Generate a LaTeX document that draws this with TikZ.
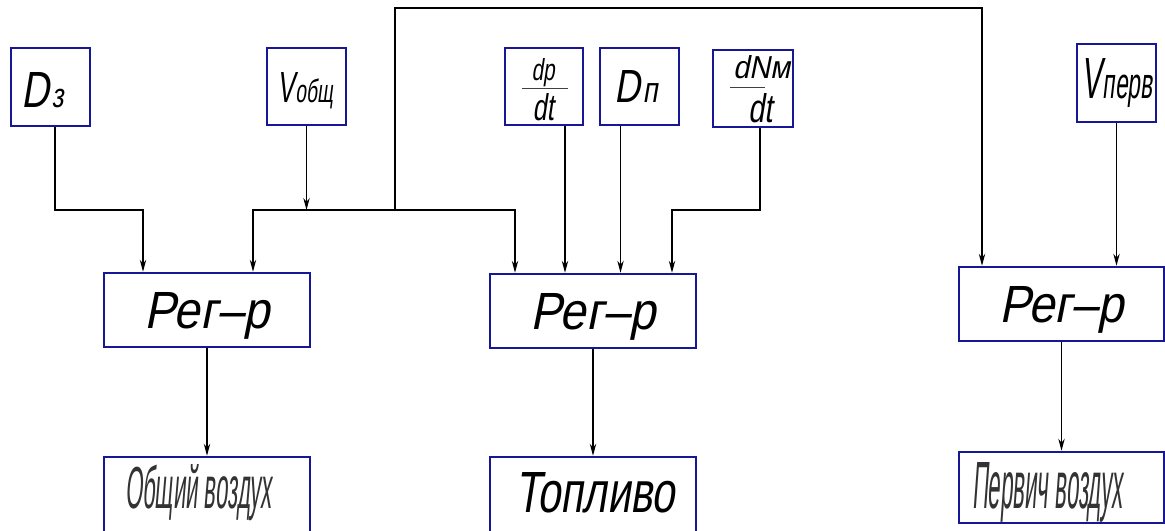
\documentclass[tikz,border=0pt]{standalone}
\usepackage{fontspec}
\newfontfamily\gost[FakeSlant=0.22]{Liberation Sans}
\usetikzlibrary{arrows.meta,calc}
\definecolor{boxblue}{RGB}{22,22,150}
\begin{document}
\begin{tikzpicture}[x=0.5pt,y=-0.5pt,
  blk/.style={draw=boxblue,line width=1.25pt,rectangle,inner sep=0pt},
  lbl/.style={inner sep=0pt,anchor=base,font=\gost},
  arr/.style={draw=black,line width=0.6pt,-{Stealth[length=6pt,width=3.2pt]}},
  fracbar/.style={draw=black!75,line width=0.5pt}]
\useasboundingbox (0,0) rectangle (1165,530);
\fill[white] (0,0) rectangle (1165,530);

% input boxes
\node[blk,minimum width=39.5pt,minimum height=39pt]   (d3)  at (50.5,87)   {};
\node[blk,minimum width=39.5pt,minimum height=38.5pt] (vo)  at (306.5,86.5) {};
\node[blk,minimum width=39pt,minimum height=38.5pt]   (dp)  at (544,86.5)  {};
\node[blk,minimum width=39.5pt,minimum height=38.5pt] (dn)  at (639.5,86.5) {};
\node[blk,minimum width=40pt,minimum height=38.5pt]   (dnm) at (753,88.5)  {};
\node[blk,minimum width=39.5pt,minimum height=39pt]   (vp)  at (1116.5,83) {};

% regulators
\node[blk,minimum width=103pt,minimum height=37pt,text depth=0pt,font=\gost] (r1) at (207,310) {\resizebox{62.5pt}{18pt}{Рег–р}};
\node[blk,minimum width=103pt,minimum height=37pt,text depth=0pt,font=\gost] (r2) at (593,311) {\resizebox{62.5pt}{18pt}{Рег–р}};
\node[blk,minimum width=102.5pt,minimum height=37pt,text depth=0pt,font=\gost] (r3) at (1061.5,304) {\resizebox{62.5pt}{18pt}{Рег–р}};

% outputs
\node[blk,minimum width=103pt,minimum height=41.5pt]   (o1) at (207,498.5) {};
\node[blk,minimum width=103pt,minimum height=41.5pt]   (o2) at (593,498.5) {};
\node[blk,minimum width=102.5pt,minimum height=35.5pt] (o3) at (1061.5,487.5) {};

% labels
\node[lbl] (t3)  at (42.5,107) {\resizebox{21pt}{17.5pt}{D\kern0.6pt{\fontsize{6.7}{8}\selectfont з}}};
\node[lbl] (tvo) at (305,102)  {\resizebox{28pt}{15pt}{V\kern0.4pt{\fontsize{7.4}{9}\selectfont общ}}};
\node[lbl] (tdn) at (636,102)  {\resizebox{21.5pt}{16pt}{D\kern0.6pt{\fontsize{7.7}{9}\selectfont п}}};
\node[lbl] (tvp) at (1117,98)  {\resizebox{35.5pt}{20pt}{V\kern0.4pt{\fontsize{7.5}{9}\selectfont перв}}};
\node[lbl] (tdp1) at (543,80)  {\resizebox{11.5pt}{11pt}{dp}};
\node[lbl] (tdp2) at (543,120) {\resizebox{10.5pt}{13.5pt}{dt}};
\node[lbl] (tdm1) at (761.5,78) {\resizebox{28.5pt}{11.5pt}{dNм}};
\node[lbl] (tdm2) at (760,122)  {\resizebox{12pt}{14.5pt}{dt}};
\draw[fracbar] (522,88) -- (568,88);
\draw[fracbar] (730,87) -- (765,87);
\node[lbl,text=black!80] (to1) at (198.5,508) {\resizebox{73.5pt}{22pt}{Общий воздух}};
\node[lbl] (to2) at (595,512) {\resizebox{80pt}{20pt}{Топливо}};
\node[lbl,text=black!80] (to3) at (1047.5,508) {\resizebox{75.5pt}{23pt}{Первич воздух}};

% connection points
\coordinate (bus) at (395,210);
\coordinate (fb)  at (395,8);
\coordinate (d3s)  at ([xshift=2.25pt]d3.south);
\coordinate (dps)  at ([xshift=10.5pt]dp.south);
\coordinate (dns)  at ([xshift=-9.5pt]dn.south);
\coordinate (dnms) at ([xshift=3.5pt]dnm.south);
\coordinate (r1a) at ([xshift=-32pt]r1.north);
\coordinate (r1b) at ([xshift=23pt]r1.north);
\coordinate (r2a) at ([xshift=-39pt]r2.north);
\coordinate (r2d) at ([xshift=39.5pt]r2.north);
\coordinate (r3a) at ([xshift=-39.75pt]r3.north);

% connectors
\draw[arr] (d3s) |- (r1a |- bus) -- (r1a);
\draw[arr] (vo.south) -- (vo.south |- bus);
\draw[arr] (bus) -| (r1b);
\draw[arr] (bus) -| (r2a);
\draw[arr] (bus) -- (fb) -| (r3a);
\draw[arr] (dps) -- (dps |- r2.north);
\draw[arr] (dns) -- (dns |- r2.north);
\draw[arr] (dnms) |- (r2d |- bus) -- (r2d);
\draw[arr] (vp.south) -- (vp.south |- r3.north);
\draw[arr] (r1.south) -- (o1.north);
\draw[arr] (r2.south) -- (o2.north);
\draw[arr] (r3.south) -- (o3.north);
\end{tikzpicture}
\end{document}
